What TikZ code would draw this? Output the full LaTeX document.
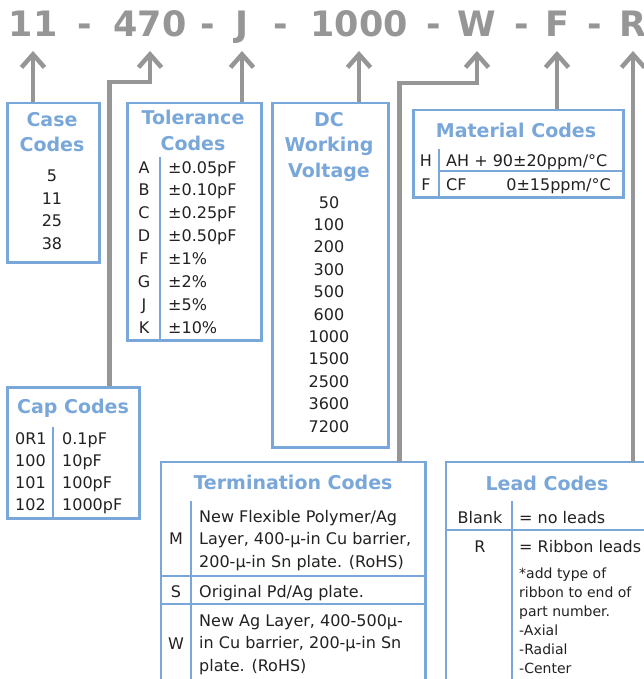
\documentclass[tikz,border=0pt]{standalone}
\usepackage{fontspec}
\setmainfont{DejaVu Sans}
\usetikzlibrary{arrows.meta,positioning,calc}
\definecolor{codegray}{RGB}{150,150,150}
\definecolor{codeblue}{RGB}{122,167,217}
\definecolor{textdark}{RGB}{34,34,34}

\begin{document}
\begin{tikzpicture}[x=1pt, y=-1pt,
    part/.style={font=\fontsize{35}{35}\selectfont\bfseries, text=codegray, anchor=base, inner sep=0pt},
    codebox/.style={draw=codeblue, line width=2.5pt, anchor=north west, inner sep=0pt},
    openbox/.style={anchor=north west, inner sep=0pt},
    boxtitle/.style={font=\fontsize{19}{25.5}\selectfont\bfseries, text=codeblue, align=center, anchor=base, inner sep=0pt},
    entry/.style={font=\fontsize{16}{22.5}\selectfont, text=textdark, anchor=base, inner sep=0pt},
    note/.style={font=\fontsize{14}{19}\selectfont, text=textdark, anchor=base west, align=left, inner sep=0pt},
    divider/.style={draw=codeblue, line width=2pt},
    pointer/.style={draw=codegray, line width=4.5pt, -{Straight Barb[length=13pt, width=23pt]}}]

    \useasboundingbox[fill=white] (0,0) rectangle (644,679);

    % part number
    \foreach \name/\txt/\x in {p11/11/33, d1/-/85, p470/470/150, d2/-/208, pJ/J/242, d3/-/281,
        p1000/1000/359, d4/-/434, pW/W/477, d5/-/522, pF/F/557, d6/-/595, pR/R/633}
        \node[part] (\name) at (\x,37) {\txt};
    \coordinate (tipline) at (0,51);
    \coordinate (elbow470) at (109.5,82);
    \coordinate (elbowW) at (399.5,83);

    % boxes
    \node[codebox, minimum width=92pt, minimum height=159pt] (case) at (6,102) {};
    \node[codebox, minimum width=134pt, minimum height=237pt] (tol) at (126,102) {};
    \node[codebox, minimum width=116pt, minimum height=344pt] (dc) at (271,102) {};
    \node[codebox, minimum width=210pt, minimum height=87pt] (mat) at (412,109) {};
    \node[codebox, minimum width=132pt, minimum height=131pt] (cap) at (6,386) {};
    \node[openbox, minimum width=264pt, minimum height=217pt] (term) at (161,462) {};
    \node[openbox, minimum width=198pt, minimum height=217pt] (lead) at (446,462) {};
    \draw[codeblue, line width=2.5pt] (term.south west) |- (term.north east) -- (term.south east);
    \draw[codeblue, line width=2.5pt] (lead.south west) |- (lead.north east);

    % arrows
    \draw[pointer] (p11 |- case.north) -- (p11 |- tipline);
    \draw[pointer] (elbow470 |- cap.north) -- (elbow470) -| (p470 |- tipline);
    \draw[pointer] (pJ |- tol.north) -- (pJ |- tipline);
    \draw[pointer] (p1000 |- dc.north) -- (p1000 |- tipline);
    \draw[pointer] (elbowW |- term.north) -- (elbowW) -| (pW |- tipline);
    \draw[pointer] (pF |- mat.north) -- (pF |- tipline);
    \draw[pointer] (pR |- lead.north) -- (pR |- tipline);

    % case codes
    \node[boxtitle] (caseT) at (52,152) {Case\\Codes};
    \foreach \v [count=\i from 0] in {5,11,25,38}
        \node[entry] (case\i) at (52,{182+22.4*\i}) {\v};

    % tolerance codes
    \node[boxtitle] (tolT) at (193,150) {Tolerance\\Codes};
    \draw[divider] (160,157) -- (160,339);
    \foreach \c/\v [count=\i from 0] in {A/{±0.05pF}, B/{±0.10pF}, C/{±0.25pF}, D/{±0.50pF},
        F/{±1\%}, G/{±2\%}, J/{±5\%}, K/{±10\%}} {
        \node[entry] (tolc\i) at (144,{173+22.86*\i}) {\c};
        \node[entry, anchor=base west] (tolv\i) at (168,{173+22.86*\i}) {\v};
    }

    % dc working voltage
    \node[boxtitle] (dcT) at (329,177) {DC\\Working\\Voltage};
    \foreach \v [count=\i from 0] in {50,100,200,300,500,600,1000,1500,2500,3600,7200}
        \node[entry] (dc\i) at (329,{208+22.4*\i}) {\v};

    % material codes
    \node[boxtitle] (matT) at (516,138) {Material Codes};
    \draw[divider] (439,149) -- (439,196);
    \draw[divider] (439,171) -- (622,171);
    \node[entry] (matH) at (426,167) {H};
    \node[entry] (matF) at (426,190) {F};
    \node[entry, anchor=base west] (matHv) at (446,167) {AH + 90±20ppm/°C};
    \node[entry, anchor=base west] (matFv) at (446,190) {CF};
    \node[entry, anchor=base east] (matFr) at (611,190) {0±15ppm/°C};

    % cap codes
    \node[boxtitle] (capT) at (73,413) {Cap Codes};
    \draw[divider] (53,427) -- (53,517);
    \foreach \c/\v [count=\i from 0] in {0R1/0.1pF, 100/10pF, 101/100pF, 102/1000pF} {
        \node[entry, anchor=base west] (capc\i) at (15,{444+22.3*\i}) {\c};
        \node[entry, anchor=base west] (capv\i) at (62,{444+22.3*\i}) {\v};
    }

    % termination codes
    \node[boxtitle] (termT) at (293,489) {Termination Codes};
    \draw[divider] (191,501) -- (191,679);
    \draw[divider] (161,576) -- (425,576);
    \draw[divider] (161,604) -- (425,604);
    \node[entry] (termM) at (176,544) {M};
    \node[entry] (termS) at (176,597) {S};
    \node[entry] (termW) at (176,649) {W};
    \node[entry, anchor=base west, align=left] (termMv) at (199,567)
        {New Flexible Polymer/Ag\\Layer, 400-µ-in Cu barrier,\\200-µ-in Sn plate. (RoHS)};
    \node[entry, anchor=base west] (termSv) at (199,597) {Original Pd/Ag plate.};
    \node[entry, anchor=base west, align=left] (termWv) at (199,671)
        {New Ag Layer, 400-500µ-\\in Cu barrier, 200-µ-in Sn\\plate. (RoHS)};

    % lead codes
    \node[boxtitle] (leadT) at (547,490) {Lead Codes};
    \draw[divider] (512,501) -- (512,679);
    \draw[divider] (446,530) -- (644,530);
    \node[entry] (leadB) at (480,523) {Blank};
    \node[entry, anchor=base west] (leadBv) at (519,523) {= no leads};
    \node[entry] (leadR) at (480,552) {R};
    \node[entry, anchor=base west] (leadRv) at (519,552) {= Ribbon leads};
    \node[note] (leadN) at (519,673) {*add type of\\ribbon to end of\\part number.\\-Axial\\-Radial\\-Center};
\end{tikzpicture}
\end{document}
